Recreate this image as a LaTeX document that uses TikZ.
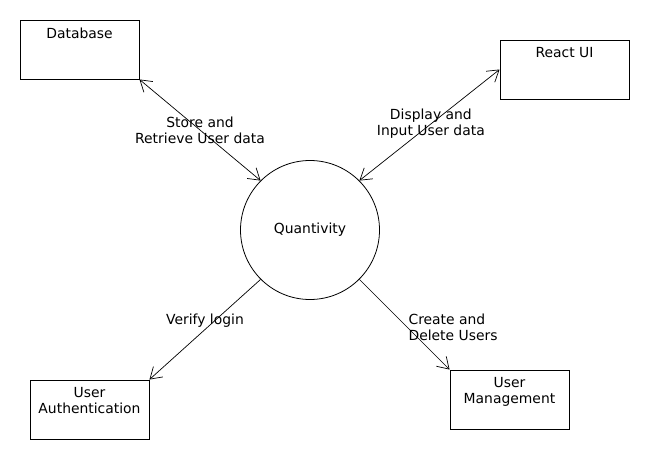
\documentclass[tikz,border=0pt]{standalone}
\usepackage{fontspec}
\setmainfont{DejaVu Sans}
\usetikzlibrary{arrows.meta}
\begin{document}
\begin{tikzpicture}[x=1pt,y=-1pt,
  every node/.style={font=\fontsize{13.9}{16}\selectfont},
  box/.style={draw, line width=0.9pt, minimum width=119pt, minimum height=59pt, inner sep=0pt},
  boxtext/.style={anchor=north, inner sep=0pt, yshift=-8pt, align=center},
  proc/.style={draw, circle, line width=0.8pt, minimum size=139pt, inner sep=0pt},
  flow/.style={line width=0.7pt, -{Straight Barb[length=11pt,width=14pt,line width=0.7pt]}},
  flowboth/.style={line width=0.7pt, {Straight Barb[length=11pt,width=14pt,line width=0.7pt]}-{Straight Barb[length=11pt,width=14pt,line width=0.7pt]}},
  lbl/.style={align=center, inner sep=0pt}]
\useasboundingbox (0,0) rectangle (650,460);
\node[box, label={[boxtext]north:Database}] (db) at (79.5,49.5) {};
\node[box, minimum width=129pt, label={[boxtext]north:React UI}] (ui) at (564.5,69.5) {};
\node[box, label={[boxtext]north:User\\Authentication}] (auth) at (89.5,409.5) {};
\node[box, label={[boxtext]north:User\\Management}] (mgmt) at (509.5,399.5) {};
\node[proc] (q) at (310,230) {Quantivity};
\draw[flowboth] (db.south east) -- node[lbl, pos=0.5]{Store and\\Retrieve User data} (q.135);
\draw[flowboth] (ui.west) -- node[lbl, pos=0.49]{Display and\\Input User data} (q.45);
\draw[flow] (q.225) -- node[lbl, pos=0.41, xshift=-10pt]{Verify login} (auth.north east);
\draw[flow] (q.315) -- node[lbl, align=left, anchor=west, pos=0.53, xshift=1pt]{Create and\\Delete Users} (mgmt.north west);
\end{tikzpicture}
\end{document}
